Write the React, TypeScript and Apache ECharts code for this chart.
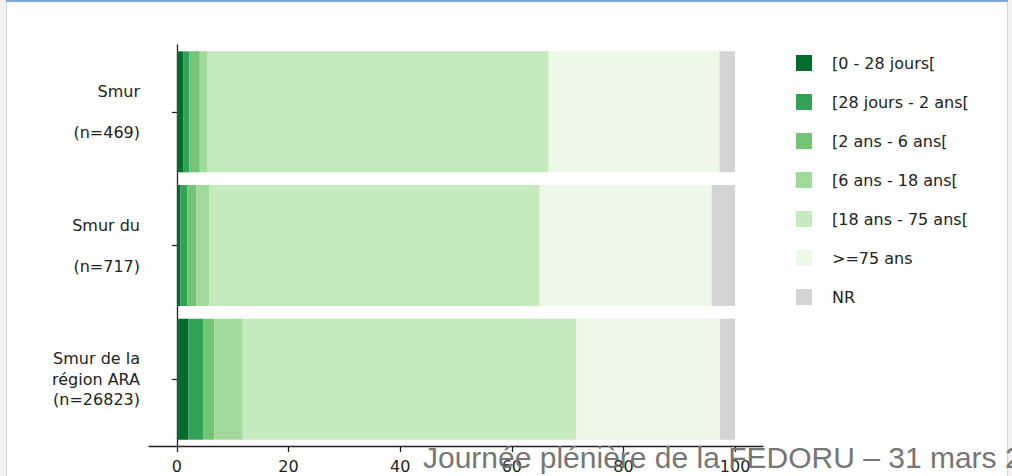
import React, { useEffect, useRef } from "react";
import * as echarts from "echarts";

const categories = ["Smur\n \n(n=469)", "Smur du\n \n(n=717)", "Smur de la\nrégion ARA\n(n=26823)"];
const seriesNames = ["[0 - 28 jours[", "[28 jours - 2 ans[", "[2 ans - 6 ans[", "[6 ans - 18 ans[", "[18 ans - 75 ans[", ">=75 ans", "NR"];
const s0 = [1.2, 0.6, 2.1];
const s1 = [1.0, 1.3, 2.6];
const s2 = [1.9, 1.6, 2.0];
const s3 = [1.4, 2.3, 5.1];
const s4 = [61.1, 59.2, 59.8];
const s5 = [30.6, 30.8, 25.7];
const s6 = [2.8, 4.2, 2.7];
const seriesValues = [s0, s1, s2, s3, s4, s5, s6];
const colors = ["#006d2c", "#31a354", "#74c476", "#a1d99b", "#c7e9c0", "#edf8e9", "#d3d3d3"];
const xTicks = [0, 20, 40, 60, 80, 100];
const footerText = "Journée plénière de la FEDORU – 31 mars 2";

export default function App() {
  const ref = useRef<HTMLDivElement>(null);
  useEffect(() => {
    document.body.style.margin = "0";
    const chart = echarts.init(ref.current!, null, { renderer: "svg" });
    const font = "DejaVu Sans, Verdana, sans-serif";
    chart.setOption({
      animation: false,
      backgroundColor: "#ffffff",
      grid: { left: 149, top: 45, width: 614, bottom: 30, containLabel: false },
      xAxis: {
        type: "value",
        min: -5,
        max: 105,
        axisLine: { show: true, lineStyle: { color: "#222", width: 1.3 } },
        axisTick: { show: true, length: 6, customValues: xTicks, lineStyle: { color: "#222", width: 1.3 } },
        axisLabel: { customValues: xTicks, color: "#222", fontFamily: font, fontSize: 16, margin: 12 },
        splitLine: { show: false },
      },
      yAxis: {
        type: "category",
        data: categories,
        inverse: true,
        axisLine: { show: true, lineStyle: { color: "#222", width: 1.3 } },
        axisTick: { show: true, alignWithLabel: true, length: 5, lineStyle: { color: "#222", width: 1.3 } },
        axisLabel: { color: "#222", fontFamily: font, fontSize: 16, lineHeight: 20.5, margin: 9, align: "right" },
      },
      legend: {
        orient: "vertical",
        left: 796,
        top: 55,
        padding: 0,
        itemWidth: 16,
        itemHeight: 16,
        itemGap: 23,
        icon: "rect",
        data: seriesNames,
        textStyle: { color: "#222", fontFamily: font, fontSize: 16, padding: [0, 0, 0, 15] },
      },
      series: seriesNames.map((name, i) => ({
        name,
        type: "bar",
        stack: "total",
        barCategoryGap: "9.5%",
        data: seriesValues[i],
        itemStyle: { color: colors[i] },
      })),
      graphic: [
        { type: "rect", shape: { x: 0, y: 0, width: 6, height: 476 }, style: { fill: "#f2f2f2" }, z: 10 },
        { type: "line", shape: { x1: 6.5, y1: 0, x2: 6.5, y2: 476 }, style: { stroke: "#d4d4d4", lineWidth: 1 }, z: 10 },
        { type: "rect", shape: { x: 1008, y: 0, width: 4, height: 476 }, style: { fill: "#f2f2f2" }, z: 10 },
        { type: "line", shape: { x1: 1007.5, y1: 0, x2: 1007.5, y2: 476 }, style: { stroke: "#d4d4d4", lineWidth: 1 }, z: 10 },
        { type: "rect", shape: { x: 6, y: 0, width: 1002, height: 2 }, style: { fill: "#7ea8d2" }, z: 10 },
        {
          type: "text",
          x: 423,
          y: 457,
          z: 20,
          style: {
            text: footerText,
            fill: "#767676",
            font: "30px 'Liberation Sans', Arial, sans-serif",
            verticalAlign: "middle",
            align: "left",
          },
        },
      ],
    });
    return () => chart.dispose();
  }, []);
  return <div ref={ref} style={{ width: 1012, height: 476, position: "absolute", left: 0, top: 0 }} />;
}
